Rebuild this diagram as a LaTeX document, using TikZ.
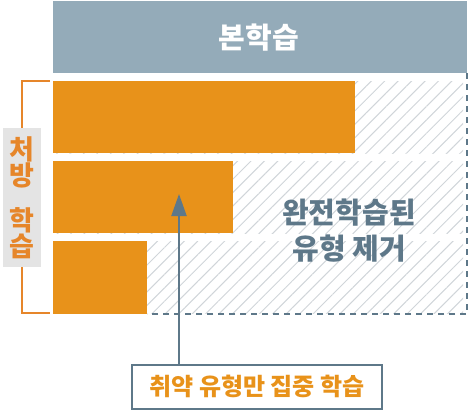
\documentclass[tikz,border=0pt]{standalone}
\usepackage{fontspec}
\setmainfont{Noto Sans CJK KR}
\usetikzlibrary{patterns.meta,arrows.meta}
\definecolor{barorange}{HTML}{E8921A}
\definecolor{brackorange}{HTML}{E6862A}
\definecolor{slate}{HTML}{5E7889}
\definecolor{topblue}{HTML}{94ABB9}
\definecolor{hatchgray}{HTML}{D0D5D9}
\definecolor{labelgray}{HTML}{E4E4E4}

\begin{document}
\begin{tikzpicture}[x=1pt,y=-1pt,
        bar/.style={fill=barorange},
        hatchrow/.style={pattern={Lines[angle=45,distance=9.5pt,line width=1pt]},pattern color=hatchgray},
        dashline/.style={draw=slate,line width=1.8pt,dash pattern=on 6pt off 5pt},
        bracket/.style={draw=brackorange,line width=2pt}]
        \useasboundingbox (0,0) rectangle (470,412);

        % Main study
        \fill[topblue] (53,1) rectangle (467,73);
        \node[text=white,font=\bfseries\fontsize{29}{32}\selectfont] (main) at (259,38) {본학습};

        % Removed types
        \fill[hatchrow] (53,81) rectangle (463,153);
        \fill[hatchrow] (53,161) rectangle (463,233);
        \fill[hatchrow] (53,241) rectangle (463,313);
        \draw[dashline] (467,73) -- (467,314) -- (147,314);
        \node[text=slate,align=center,font=\bfseries\fontsize{29}{36}\selectfont] (removed) at (349,231) {완전학습된\\유형 제거};

        % Bars
        \fill[bar] (53,81) rectangle (355,153);
        \fill[bar] (53,161) rectangle (233,233);
        \fill[bar] (53,241) rectangle (147,314);

        % Prescription
        \node[fill=labelgray,minimum width=38pt,minimum height=139pt,inner sep=0pt,
            text=brackorange,align=center,font=\bfseries\fontsize{27}{24.5}\selectfont] (rx) at (21.5,197.5) {처\\방\\[18pt]학\\습};
        \draw[bracket] (rx.north) |- (50,81);
        \draw[bracket] (rx.south) |- (50,313);

        % Focus
        \node[draw=slate,line width=2pt,minimum width=250pt,minimum height=44pt,
            text=barorange,font=\bfseries\fontsize{24}{26}\selectfont] (focus) at (257,386.5) {취약 유형만 집중 학습};
        \coordinate (tip) at (179,194);
        \draw[slate,line width=2pt,-{Triangle[length=22pt,width=15pt]}] (focus.north -| tip) -- (tip);
    \end{tikzpicture}
\end{document}
